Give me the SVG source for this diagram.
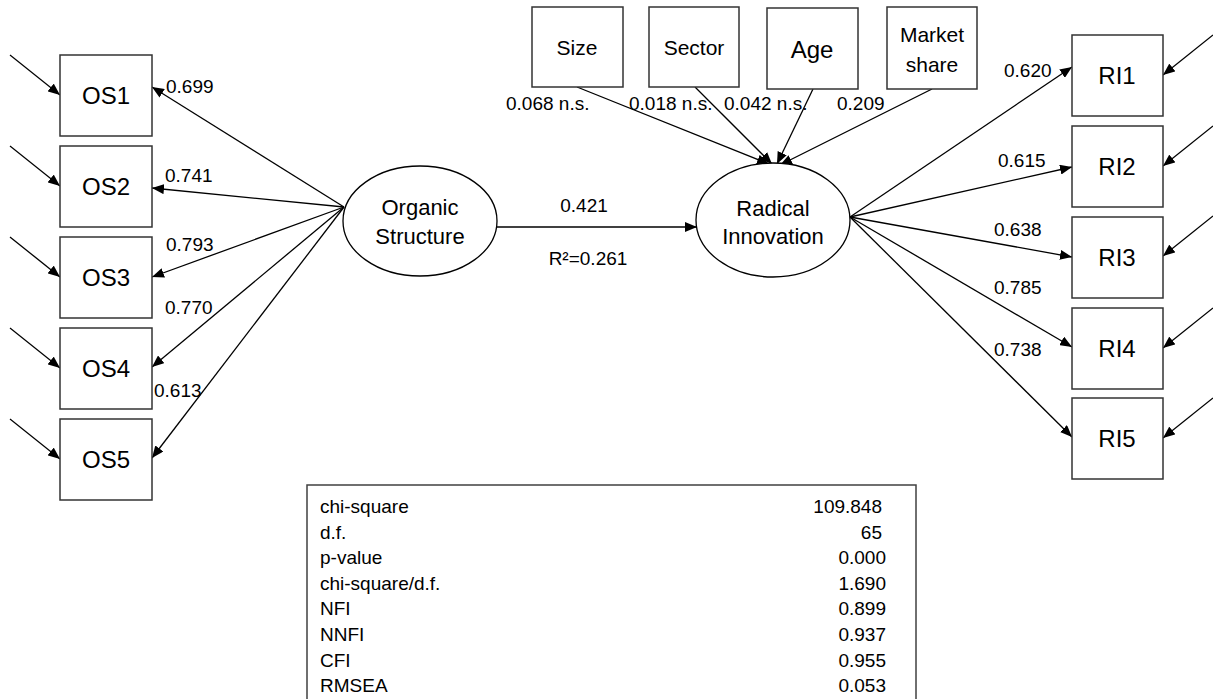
<svg xmlns="http://www.w3.org/2000/svg" width="1213" height="699" viewBox="0 0 1213 699">
<style>
  text { font-family: "Liberation Sans", Arial, sans-serif; fill: #000; }
  .box { fill: #fff; stroke: #333; stroke-width: 1.5; }
  .ell { fill: #fff; stroke: #000; stroke-width: 1.3; }
  .ind { font-size: 24px; text-anchor: middle; }
  .ctl { font-size: 21px; text-anchor: middle; }
  .lat { font-size: 22px; text-anchor: middle; }
  .lbl { font-size: 19px; }
  .tbl { font-size: 19px; }
  .val { font-size: 19px; text-anchor: end; }
  .con line { stroke: #000; stroke-width: 1.3; marker-end: url(#arr); }
</style>
<defs>
  <marker id="arr" viewBox="0 0 12 10" refX="12" refY="5" markerWidth="12" markerHeight="10" markerUnits="userSpaceOnUse" orient="auto">
    <path d="M0,0 L12,5 L0,10 z" fill="#000"/>
  </marker>
</defs>
<rect width="1213" height="699" fill="#fff"/>

<g id="connectors" class="con">
  <!-- left error arrows -->
  <line x1="10" y1="55" x2="60" y2="95"/>
  <line x1="10" y1="146" x2="60" y2="186"/>
  <line x1="10" y1="237" x2="60" y2="277"/>
  <line x1="10" y1="328" x2="60" y2="368"/>
  <line x1="10" y1="419" x2="60" y2="459"/>
  <!-- OS loadings -->
  <line x1="344" y1="207" x2="152" y2="87"/>
  <line x1="344" y1="207" x2="152" y2="188"/>
  <line x1="344" y1="207" x2="152" y2="277"/>
  <line x1="344" y1="207" x2="152" y2="367"/>
  <line x1="344" y1="207" x2="152" y2="458"/>
  <!-- structural path -->
  <line x1="496" y1="227" x2="697" y2="227"/>
  <!-- controls -->
  <line x1="577" y1="87" x2="769" y2="164"/>
  <line x1="695" y1="87" x2="772" y2="164"/>
  <line x1="813" y1="89" x2="777" y2="164"/>
  <line x1="932" y1="89" x2="780" y2="165"/>
  <!-- RI loadings -->
  <line x1="850" y1="217" x2="1072" y2="67"/>
  <line x1="850" y1="217" x2="1072" y2="167"/>
  <line x1="850" y1="217" x2="1072" y2="257"/>
  <line x1="850" y1="217" x2="1072" y2="347"/>
  <line x1="850" y1="217" x2="1072" y2="437"/>
  <!-- right error arrows -->
  <line x1="1213" y1="35" x2="1163" y2="75"/>
  <line x1="1213" y1="126" x2="1163" y2="166"/>
  <line x1="1213" y1="216" x2="1163" y2="256"/>
  <line x1="1213" y1="308" x2="1163" y2="348"/>
  <line x1="1213" y1="398" x2="1163" y2="438"/>
</g>

<g id="edge-labels" class="lbl">
  <text x="166" y="93">0.699</text>
  <text x="165" y="182">0.741</text>
  <text x="166" y="251">0.793</text>
  <text x="165" y="314">0.770</text>
  <text x="154" y="397">0.613</text>
  <text x="584" y="212" text-anchor="middle">0.421</text>
  <text x="588" y="265" text-anchor="middle">R²=0.261</text>
  <text x="506" y="110">0.068 n.s.</text>
  <text x="629" y="110">0.018 n.s.</text>
  <text x="724" y="110">0.042 n.s.</text>
  <text x="837" y="110">0.209</text>
  <text x="1004" y="77">0.620</text>
  <text x="998" y="167">0.615</text>
  <text x="994" y="236">0.638</text>
  <text x="994" y="294">0.785</text>
  <text x="994" y="356">0.738</text>
</g>

<g id="OS1"><rect class="box" x="60" y="55" width="92" height="81"/><text class="ind" x="106" y="104">OS1</text></g>
<g id="OS2"><rect class="box" x="60" y="146" width="92" height="81"/><text class="ind" x="106" y="195">OS2</text></g>
<g id="OS3"><rect class="box" x="60" y="237" width="92" height="81"/><text class="ind" x="106" y="286">OS3</text></g>
<g id="OS4"><rect class="box" x="60" y="328" width="92" height="81"/><text class="ind" x="106" y="377">OS4</text></g>
<g id="OS5"><rect class="box" x="60" y="419" width="92" height="81"/><text class="ind" x="106" y="468">OS5</text></g>

<g id="OrganicStructure">
  <ellipse class="ell" cx="420" cy="221" rx="77" ry="55"/>
  <text class="lat" x="420" y="215">Organic</text>
  <text class="lat" x="420" y="244">Structure</text>
</g>
<g id="RadicalInnovation">
  <ellipse class="ell" cx="773" cy="220" rx="77" ry="57"/>
  <text class="lat" x="773" y="216">Radical</text>
  <text class="lat" x="773" y="244">Innovation</text>
</g>

<g id="Size"><rect class="box" x="532" y="7" width="91" height="80"/><text class="ctl" x="577" y="55">Size</text></g>
<g id="Sector"><rect class="box" x="649" y="7" width="90" height="80"/><text class="ctl" x="694" y="55">Sector</text></g>
<g id="Age"><rect class="box" x="767" y="8" width="91" height="81"/><text class="ctl" x="812" y="58" style="font-size:24px">Age</text></g>
<g id="MarketShare"><rect class="box" x="887" y="7" width="90" height="82"/><text class="ctl" x="932" y="42">Market</text><text class="ctl" x="932" y="72">share</text></g>

<g id="RI1"><rect class="box" x="1072" y="35" width="91" height="81"/><text class="ind" x="1117" y="84">RI1</text></g>
<g id="RI2"><rect class="box" x="1072" y="126" width="91" height="81"/><text class="ind" x="1117" y="175">RI2</text></g>
<g id="RI3"><rect class="box" x="1072" y="217" width="91" height="81"/><text class="ind" x="1117" y="266">RI3</text></g>
<g id="RI4"><rect class="box" x="1072" y="308" width="91" height="81"/><text class="ind" x="1117" y="357">RI4</text></g>
<g id="RI5"><rect class="box" x="1072" y="398" width="91" height="81"/><text class="ind" x="1117" y="447">RI5</text></g>

<g id="fit-table">
  <rect x="307" y="485" width="609" height="240" fill="#fff" stroke="#404040" stroke-width="1.5"/>
  <text class="tbl" x="320" y="513">chi-square</text>
  <text class="tbl" x="320" y="538.6">d.f.</text>
  <text class="tbl" x="320" y="564.2">p-value</text>
  <text class="tbl" x="320" y="589.8">chi-square/d.f.</text>
  <text class="tbl" x="320" y="615.4">NFI</text>
  <text class="tbl" x="320" y="641">NNFI</text>
  <text class="tbl" x="320" y="666.6">CFI</text>
  <text class="tbl" x="320" y="692.2">RMSEA</text>
  <text class="val" x="882" y="513">109.848</text>
  <text class="val" x="882" y="538.6">65</text>
  <text class="val" x="886" y="564.2">0.000</text>
  <text class="val" x="886" y="589.8">1.690</text>
  <text class="val" x="886" y="615.4">0.899</text>
  <text class="val" x="886" y="641">0.937</text>
  <text class="val" x="886" y="666.6">0.955</text>
  <text class="val" x="886" y="692.2">0.053</text>
</g>
</svg>
